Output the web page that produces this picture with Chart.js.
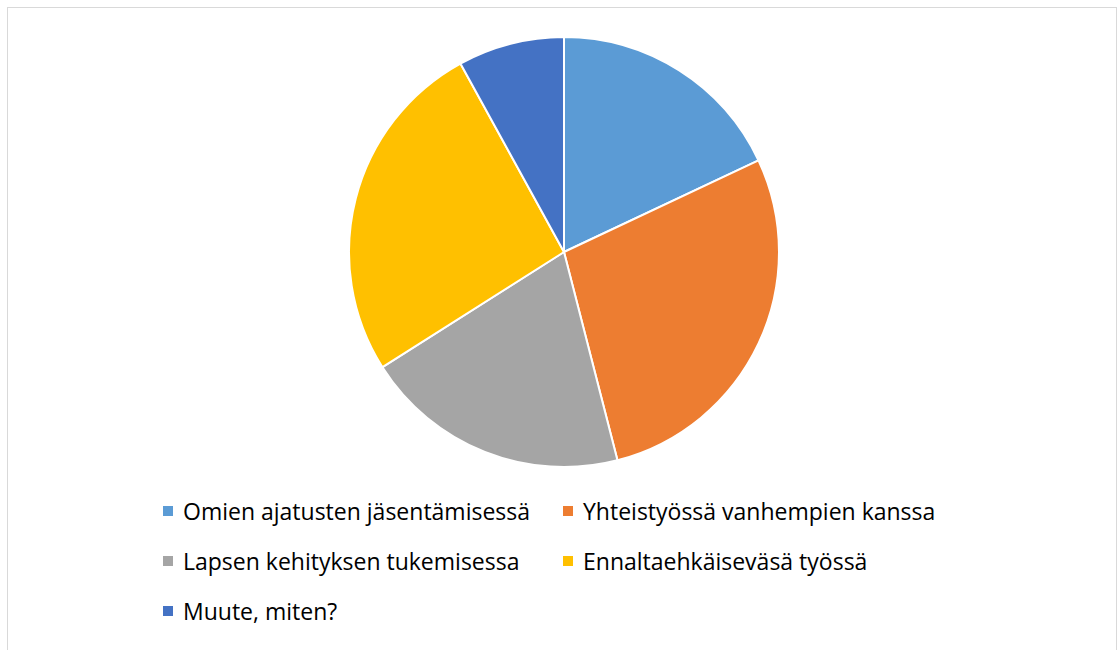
<!DOCTYPE html>
<html>
<head>
<meta charset="utf-8">
<script src="https://cdn.jsdelivr.net/npm/chart.js@4"></script>
<style>
  body { margin: 0; background: #fff; width: 1120px; height: 650px; overflow: hidden; position: relative; }
  #kehys { position: absolute; left: 7px; top: 7px; width: 1110px; height: 700px; border: 1.5px solid #D9D9D9; box-sizing: border-box; }
  #piirakka { position: absolute; left: 348px; top: 36px; width: 432px; height: 432px; }
  #selite { position: absolute; left: 163px; top: 496px; font-family: "Open Sans", Lato, sans-serif; font-size: 23px; color: #000; }
  .rivi { position: absolute; white-space: nowrap; display: flex; align-items: center; height: 30px; }
  .laatikko { width: 10px; height: 10px; margin-right: 10px; }
</style>
</head>
<body>
<div id="kehys"></div>
<div id="piirakka"><canvas id="grafico_piirakka"></canvas></div>
<div id="selite"></div>
<script>
const nimet = [
    'Omien ajatusten jäsentämisessä',
    'Yhteistyössä vanhempien kanssa',
    'Lapsen kehityksen tukemisessa',
    'Ennaltaehkäiseväsä työssä',
    'Muute, miten?'
];
const arvot = [18, 28, 20, 26, 8];
const varit = ['#5B9BD5', '#ED7D31', '#A5A5A5', '#FFC000', '#4472C4'];

const ctx = document.getElementById('grafico_piirakka');
const graficoPiirakka = new Chart(ctx, {
    type: 'pie',
    data: {
        labels: nimet,
        datasets: [{
            data: arvot,
            backgroundColor: varit,
            borderColor: '#ffffff',
            borderWidth: 2
        }]
    },
    options: {
        responsive: true,
        maintainAspectRatio: false,
        animation: false,
        layout: { padding: 0 },
        plugins: {
            legend: { display: false },
            tooltip: { enabled: false }
        }
    }
});

// selite kahteen sarakkeeseen kuten alkuperäisessä
const selite = document.getElementById('selite');
nimet.forEach(function (nimi, i) {
    const rivi = document.createElement('div');
    rivi.className = 'rivi';
    rivi.style.left = (i % 2) * 400 + 'px';
    rivi.style.top = Math.floor(i / 2) * 50 + 'px';
    rivi.innerHTML = '<span class="laatikko" style="background:' + varit[i] + '"></span>' + nimi;
    selite.appendChild(rivi);
});
</script>
</body>
</html>
